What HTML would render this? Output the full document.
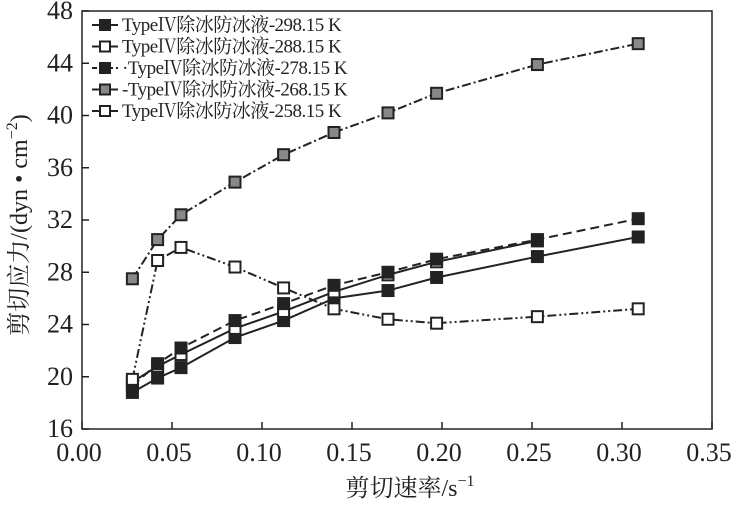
<!DOCTYPE html>
<html><head><meta charset="utf-8"><style>
body{margin:0;background:#fff}
svg text{font-family:"Liberation Serif","Noto Serif CJK SC",serif;fill:#222}
</style></head><body>
<svg width="740" height="500" viewBox="0 0 740 500">
<g id="axes"></g><g id="series"></g><g id="legend"></g>
</svg>
<script>
const xVals=[0.028,0.042,0.055,0.085,0.112,0.14,0.17,0.197,0.253,0.309];
const s298=[18.8,19.9,20.7,23.0,24.3,26.0,26.6,27.6,29.2,30.7];
const s288=[19.6,20.8,21.7,23.7,25.0,26.5,27.8,28.8,30.4];
const s278=[19.3,21.0,22.2,24.3,25.6,27.0,28.0,29.0,30.5,32.1];
const s268=[27.5,30.5,32.4,34.9,37.0,38.7,40.2,41.7,43.9,45.5];
const s258=[19.8,28.9,29.9,28.4,26.8,25.2,24.4,24.1,24.6,25.2];
const xTicks=["0.00","0.05","0.10","0.15","0.20","0.25","0.30","0.35"];
const yTicks=["16","20","24","28","32","36","40","44","48"];
const legendLabels=["TypeⅣ除冰防冰液-298.15 K","TypeⅣ除冰防冰液-288.15 K","·TypeⅣ除冰防冰液-278.15 K","-TypeⅣ除冰防冰液-268.15 K","TypeⅣ除冰防冰液-258.15 K"];

const NS="http://www.w3.org/2000/svg";
const L=82,R=712,T=11,B=429;
const X=v=>L+v/0.35*(R-L);
const Y=v=>B-(v-16)/32*(B-T);
function mk(tag,attrs,parent){const e=document.createElementNS(NS,tag);for(const k in attrs)e.setAttribute(k,attrs[k]);parent.appendChild(e);return e;}
const ax=document.getElementById('axes');
const frame=mk('rect',{x:L,y:T,width:R-L,height:B-T,fill:'none',stroke:'#222','stroke-width':1.5},ax);


xTicks.forEach(t=>{const x=X(+t);
 const l=mk('line',{x1:x,x2:x,y1:B,y2:B-7,stroke:'#222','stroke-width':1.5},ax);
 
 
 const tx=mk('text',{x:x-3,y:B+32,'text-anchor':'middle','font-size':26},ax);tx.textContent=t;
 
 
});
yTicks.forEach(t=>{const y=Y(+t);
 const l=mk('line',{x1:L,x2:L+7,y1:y,y2:y,stroke:'#222','stroke-width':1.5},ax);
 
 
 const tx=mk('text',{x:L-9,y:y+8,'text-anchor':'end','font-size':26},ax);tx.textContent=t;
 
 
});
const xt=mk('text',{x:410,y:496,'text-anchor':'middle','font-size':24},ax);
xt.innerHTML='剪切速率/s<tspan dy="-10" font-size="16">−1</tspan>';


const yt=mk('text',{x:0,y:0,'text-anchor':'middle','font-size':24,transform:'translate(27,225) rotate(-90)'},ax);
yt.innerHTML='剪切应力/(dyn • cm<tspan dy="-10" font-size="16">−2</tspan><tspan dy="10">)</tspan>';



const styles=[
 {d:s298,dash:'',fill:'#222',name:'series-298k'},
 {d:s288,dash:'',fill:'#fff',name:'series-288k'},
 {d:s278,dash:'9,5',fill:'#222',name:'series-278k'},
 {d:s268,dash:'9,3,2,3',fill:'#888',name:'series-268k'},
 {d:s258,dash:'9,3,2,3,2,3',fill:'#fff',name:'series-258k'}];
const sg=document.getElementById('series');
styles.forEach(s=>{
 const g=mk('g',{},sg);
 
 
 const pts=s.d.map((v,i)=>X(xVals[i])+','+Y(v)).join(' ');
 const pl=mk('polyline',{points:pts,fill:'none',stroke:'#222','stroke-width':2,'stroke-dasharray':s.dash},g);
 
 
 s.d.forEach((v,i)=>{
  const r=mk('rect',{x:X(xVals[i])-5.5,y:Y(v)-5.5,width:11,height:11,fill:s.fill,stroke:'#222','stroke-width':2},g);
  
  
 });
});
const lg=document.getElementById('legend');
legendLabels.forEach((t,i)=>{
 const s=styles[i],y=25+i*21.5;
 const g=mk('g',{},lg);
 
 
 mk('line',{x1:92,x2:118,y1:y,y2:y,stroke:'#222','stroke-width':2,'stroke-dasharray':i==2?'5,3':''},g);
 mk('rect',{x:100,y:y-5,width:10,height:10,fill:s.fill,stroke:'#222','stroke-width':2},g);
 const tx=mk('text',{x:122,y:y+6,'font-size':19,'letter-spacing':'-0.5'},g);tx.textContent=t;
});
</script>
</body></html>
